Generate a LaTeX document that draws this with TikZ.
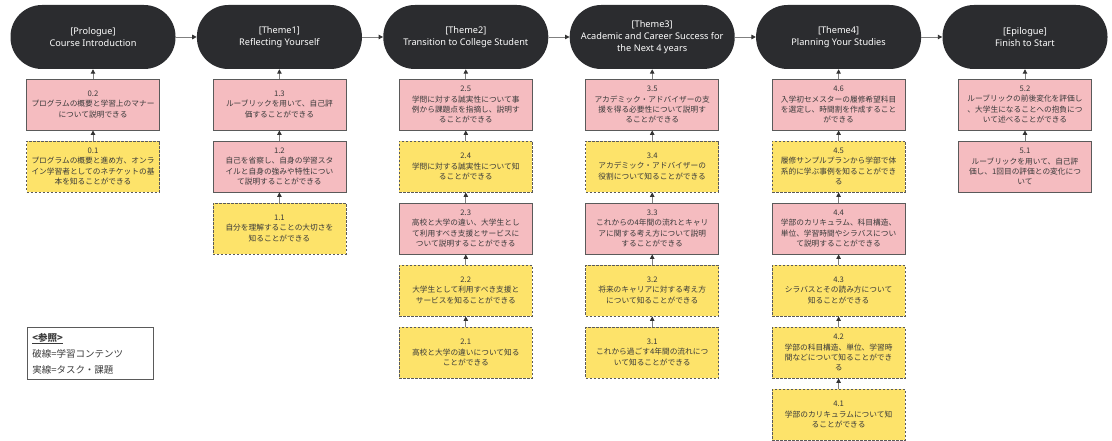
\documentclass[tikz,border=0pt]{standalone}
\usepackage{fontspec}
\setmainfont{Noto Sans}
\newfontfamily\cjk{Noto Sans CJK JP}
\usetikzlibrary{arrows.meta}
\definecolor{pillc}{HTML}{2B2C2F}
\definecolor{pinkc}{HTML}{F5BCC0}
\definecolor{yelc}{HTML}{FDE36A}
\definecolor{edgec}{HTML}{5A5A5A}
\definecolor{txtc}{HTML}{3A3A3A}
\definecolor{arrc}{HTML}{808080}
\definecolor{tipc}{HTML}{333333}
\tikzset{
  pill/.style={fill=pillc, rounded corners=31.5pt, minimum width=165pt, minimum height=64pt,
    text=white, align=center, font=\fontsize{9.2}{12}\selectfont, inner sep=0pt},
  task/.style={draw=edgec, fill=pinkc, line width=0.8pt, minimum width=133pt, minimum height=51pt,
    align=center, text=txtc, font=\cjk\fontsize{7.7}{10.2}\selectfont, inner sep=0pt},
  content/.style={task, fill=yelc, dash pattern=on 2.5pt off 1.5pt},
  arr/.style={draw=arrc, line width=0.9pt, -{Triangle[length=4.5pt,width=4.5pt,color=tipc]}},
}
\begin{document}
\begin{tikzpicture}[x=1pt,y=-1pt]
\useasboundingbox (0,0) rectangle (1112,441);
% header pills
\node[pill] (p0) at (93,37) {[Prologue]\\Course Introduction};
\node[pill] (p1) at (279.4,37) {[Theme1]\\Reflecting Yourself};
\node[pill] (p2) at (465.8,37) {[Theme2]\\Transition to College Student};
\node[pill] (p3) at (652.2,37) {[Theme3]\\Academic and Career Success for\\the Next 4 years};
\node[pill] (p4) at (838.6,37) {[Theme4]\\Planning Your Studies};
\node[pill] (p5) at (1025,37) {[Epilogue]\\Finish to Start};
\draw[arr] (p0.east) -- (p1.west);
\draw[arr] (p1.east) -- (p2.west);
\draw[arr] (p2.east) -- (p3.west);
\draw[arr] (p3.east) -- (p4.west);
\draw[arr] (p4.east) -- (p5.west);
% column 0
\node[task] (b02) at (93,104.5) {0.2\\プログラムの概要と学習上のマナー\\について説明できる};
\node[content] (b01) at (93,166.5) {0.1\\プログラムの概要と進め方、オンラ\\イン学習者としてのネチケットの基\\本を知ることができる};
\draw[arr] (b02.north) -- (p0.south);
\draw[arr] (b01.north) -- (b02.south);
% column 1
\node[task] (b13) at (279.4,104.5) {1.3\\ルーブリックを用いて、自己評\\価することができる};
\node[task] (b12) at (279.4,166.5) {1.2\\自己を省察し、自身の学習スタ\\イルと自身の強みや特性につい\\て説明することができる};
\node[content] (b11) at (279.4,228.5) {1.1\\自分を理解することの大切さを\\知ることができる};
\draw[arr] (b13.north) -- (p1.south);
\draw[arr] (b12.north) -- (b13.south);
\draw[arr] (b11.north) -- (b12.south);
% column 2
\node[task] (b25) at (465.8,104.5) {2.5\\学問に対する誠実性について事\\例から課題点を指摘し、説明す\\ることができる};
\node[content] (b24) at (465.8,166.5) {2.4\\学問に対する誠実性について知\\ることができる};
\node[task] (b23) at (465.8,228.5) {2.3\\高校と大学の違い、大学生とし\\て利用すべき支援とサービスに\\ついて説明することができる};
\node[content] (b22) at (465.8,290.5) {2.2\\大学生として利用すべき支援と\\サービスを知ることができる};
\node[content] (b21) at (465.8,352.5) {2.1\\高校と大学の違いについて知る\\ことができる};
\draw[arr] (b25.north) -- (p2.south);
\draw[arr] (b24.north) -- (b25.south);
\draw[arr] (b23.north) -- (b24.south);
\draw[arr] (b22.north) -- (b23.south);
\draw[arr] (b21.north) -- (b22.south);
% column 3
\node[task] (b35) at (652.2,104.5) {3.5\\アカデミック・アドバイザーの支\\援を得る必要性について説明す\\ることができる};
\node[content] (b34) at (652.2,166.5) {3.4\\アカデミック・アドバイザーの\\役割について知ることができる};
\node[task] (b33) at (652.2,228.5) {3.3\\これからの4年間の流れとキャリ\\アに関する考え方について説明\\することができる};
\node[content] (b32) at (652.2,290.5) {3.2\\将来のキャリアに対する考え方\\について知ることができる};
\node[content] (b31) at (652.2,352.5) {3.1\\これから過ごす4年間の流れにつ\\いて知ることができる};
\draw[arr] (b35.north) -- (p3.south);
\draw[arr] (b34.north) -- (b35.south);
\draw[arr] (b33.north) -- (b34.south);
\draw[arr] (b32.north) -- (b33.south);
\draw[arr] (b31.north) -- (b32.south);
% column 4
\node[task] (b46) at (838.6,104.5) {4.6\\入学初セメスターの履修希望科目\\を選定し、時間割を作成すること\\ができる};
\node[content] (b45) at (838.6,166.5) {4.5\\履修サンプルプランから学部で体\\系的に学ぶ事例を知ることができ\\る};
\node[task] (b44) at (838.6,228.5) {4.4\\学部のカリキュラム、科目構造、\\単位、学習時間やシラバスについ\\て説明することができる};
\node[content] (b43) at (838.6,290.5) {4.3\\シラバスとその読み方について\\知ることができる};
\node[content] (b42) at (838.6,352.5) {4.2\\学部の科目構造、単位、学習時\\間などについて知ることができ\\る};
\node[content] (b41) at (838.6,414.5) {4.1\\学部のカリキュラムについて知\\ることができる};
\draw[arr] (b46.north) -- (p4.south);
\draw[arr] (b45.north) -- (b46.south);
\draw[arr] (b44.north) -- (b45.south);
\draw[arr] (b43.north) -- (b44.south);
\draw[arr] (b42.north) -- (b43.south);
\draw[arr] (b41.north) -- (b42.south);
% column 5
\node[task] (b52) at (1025,104.5) {5.2\\ルーブリックの前後変化を評価し\\、大学生になることへの抱負につ\\いて述べることができる};
\node[task] (b51) at (1025,166.5) {5.1\\ルーブリックを用いて、自己評\\価し、1回目の評価との変化につ\\いて};
\draw[arr] (b52.north) -- (p5.south);
\draw[arr] (b51.north) -- (b52.south);
% legend
\node[draw=edgec, line width=0.8pt, anchor=north west, minimum width=126pt, minimum height=52pt,
  text width=116pt, align=left, inner xsep=5pt, text=txtc,
  font=\cjk\fontsize{9.5}{16}\selectfont] (legend) at (27,327)
  {\underline{\textbf{<参照>}}\\破線=学習コンテンツ\\実線=タスク・課題};
\end{tikzpicture}
\end{document}
